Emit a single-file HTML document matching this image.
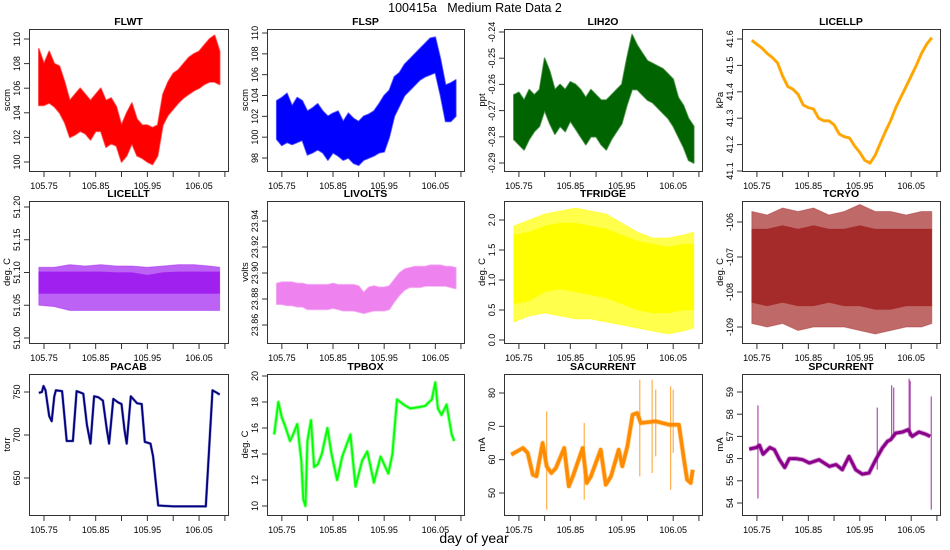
<!DOCTYPE html>
<html><head><meta charset="utf-8"><style>
body{margin:0;background:#fff;}
svg{display:block;font-family:"Liberation Sans",sans-serif;}
</style></head><body>
<svg id="chart" width="950" height="550" viewBox="0 0 950 550" xmlns="http://www.w3.org/2000/svg">
<text x="475" y="12" text-anchor="middle" font-size="12.5" style="white-space:pre" xml:space="preserve">100415a   Medium Rate Data 2</text>
<text x="474" y="543" text-anchor="middle" font-size="14">day of year</text>
</svg>
<script>
// ---------- data ----------
const T36=[105.74,105.75,105.76,105.77,105.78,105.79,105.80,105.81,105.82,105.83,105.84,105.85,105.86,105.87,105.88,105.89,105.90,105.91,105.92,105.93,105.94,105.95,105.96,105.97,105.98,105.99,106.00,106.01,106.02,106.03,106.04,106.05,106.06,106.07,106.08,106.09];
const T13=[105.74,105.77,105.80,105.83,105.86,105.89,105.92,105.95,105.98,106.01,106.04,106.07,106.09];
const xTicks=[105.75,105.80,105.85,105.90,105.95,106.00,106.05,106.10];
const xTickLabels=["105.75","","105.85","","105.95","","106.05",""];

const flwtLo=[104.6,104.6,104.8,104.5,104,103.2,102,102.2,102.5,102.3,101.8,102.5,102.5,101.2,101.5,101.3,100,100.5,101.5,100.5,100.3,100,99.8,100.5,103,103.8,104.3,104.8,105.2,105.5,105.8,106,106.3,106.5,106.5,106.3];
const flwtHi=[109.2,108,109,108,107.8,106.5,105,105.5,106,105.5,105,105.5,106,105,105.2,104.5,103,104,104.8,103.5,103,103,102.8,103,105.5,106.5,107.2,107.5,108,108.5,108.8,109,109.5,110,110.3,109];
const flspLo=[99.8,99.2,99.5,99.3,99.5,99.7,98.3,98.5,98.8,98.5,97.8,98.5,98.2,97.8,98,97.5,97.3,97.8,98,98.2,98.5,98.6,100,102,103,104,104.5,105,105.5,105.8,106,106.2,104,101.5,101.5,102];
const flspHi=[103.5,103.8,104.2,103,103.8,103.5,102.5,102.8,103.2,102.5,102,102.3,102.5,101.5,102.3,101.8,101.5,102,102.2,102.5,103.2,104,104.5,105.8,106.2,107,107.5,108,108.5,109,109.5,109.6,107.5,105,105.2,105.5];
const lih2oLo=[-0.281,-0.283,-0.285,-0.281,-0.278,-0.276,-0.27,-0.275,-0.279,-0.276,-0.278,-0.274,-0.277,-0.28,-0.283,-0.28,-0.28,-0.283,-0.285,-0.281,-0.278,-0.275,-0.268,-0.262,-0.262,-0.264,-0.266,-0.267,-0.269,-0.271,-0.273,-0.276,-0.28,-0.284,-0.289,-0.29];
const lih2oHi=[-0.264,-0.263,-0.266,-0.262,-0.264,-0.262,-0.25,-0.255,-0.262,-0.26,-0.262,-0.259,-0.26,-0.262,-0.265,-0.262,-0.264,-0.266,-0.266,-0.264,-0.262,-0.26,-0.25,-0.241,-0.245,-0.248,-0.251,-0.252,-0.253,-0.254,-0.256,-0.258,-0.265,-0.268,-0.273,-0.276];
const licellpVals=[41.595,41.58,41.565,41.545,41.53,41.51,41.46,41.42,41.41,41.39,41.35,41.34,41.335,41.30,41.29,41.29,41.275,41.24,41.23,41.225,41.195,41.17,41.14,41.13,41.16,41.205,41.25,41.29,41.34,41.38,41.42,41.46,41.50,41.545,41.58,41.605];

const licelltLo=[51.05,51.048,51.042,51.042,51.042,51.042,51.042,51.042,51.042,51.042,51.042,51.042,51.042];
const licelltHi=[51.108,51.108,51.112,51.11,51.112,51.11,51.11,51.108,51.11,51.112,51.112,51.11,51.108];
const licelltCoreLo=[51.068,51.068,51.068,51.068,51.068,51.068,51.068,51.068,51.068,51.068,51.068,51.068,51.068];
const licelltCoreHi=[51.101,51.101,51.101,51.101,51.101,51.1,51.1,51.096,51.1,51.101,51.101,51.101,51.101];
const livoltsLo=[23.876,23.876,23.875,23.875,23.874,23.874,23.872,23.872,23.872,23.872,23.872,23.873,23.872,23.871,23.871,23.871,23.87,23.869,23.87,23.871,23.871,23.871,23.872,23.878,23.883,23.887,23.889,23.889,23.889,23.89,23.89,23.89,23.89,23.89,23.889,23.888];
const livoltsHi=[23.892,23.893,23.893,23.893,23.892,23.892,23.891,23.891,23.891,23.891,23.891,23.892,23.891,23.891,23.891,23.891,23.89,23.885,23.889,23.89,23.889,23.889,23.89,23.895,23.9,23.903,23.904,23.905,23.905,23.905,23.906,23.906,23.906,23.905,23.905,23.904];
const tfridgeLo=[0.3,0.4,0.45,0.4,0.35,0.35,0.3,0.25,0.2,0.15,0.1,0.15,0.2];
const tfridgeHi=[1.9,2.0,2.1,2.15,2.2,2.15,2.1,1.95,1.8,1.7,1.7,1.75,1.8];
const tfridgeCoreLo=[0.6,0.65,0.8,0.85,0.8,0.75,0.7,0.6,0.5,0.45,0.45,0.5,0.5];
const tfridgeCoreHi=[1.75,1.8,1.9,1.95,1.95,1.9,1.85,1.75,1.65,1.6,1.55,1.6,1.6];
const tcryoLo=[-108.9,-109,-108.9,-109.1,-109,-109,-109,-109.1,-109.2,-109.1,-109,-109,-108.9];
const tcryoHi=[-105.7,-105.8,-105.6,-105.7,-105.6,-105.8,-105.7,-105.5,-105.7,-105.7,-105.8,-105.7,-105.7];
const tcryoCoreLo=[-108.3,-108.4,-108.3,-108.4,-108.4,-108.3,-108.4,-108.4,-108.5,-108.5,-108.4,-108.4,-108.4];
const tcryoCoreHi=[-106.2,-106.2,-106.1,-106.2,-106.1,-106.2,-106.2,-106.1,-106.2,-106.2,-106.2,-106.2,-106.2];

const pacabT=[105.740,105.746,105.749,105.753,105.760,105.765,105.770,105.773,105.785,105.794,105.806,105.813,105.826,105.833,105.840,105.847,105.855,105.864,105.872,105.876,105.884,105.893,105.900,105.906,105.910,105.918,105.930,105.939,105.945,105.956,105.961,105.971,106.000,106.030,106.063,106.076,106.085,106.090];
const pacabVals=[749,750,757,752,722,716,745,752,751,693,693,751,748,712,690,745,744,740,705,690,742,738,736,705,690,745,737,736,692,690,675,618,617,617,617,752,749,747];
const tpboxT=[105.735,105.743,105.750,105.756,105.766,105.772,105.780,105.788,105.792,105.796,105.800,105.807,105.813,105.820,105.828,105.839,105.847,105.858,105.868,105.884,105.894,105.907,105.917,105.930,105.943,105.958,105.966,105.975,105.988,106.001,106.017,106.030,106.043,106.050,106.055,106.062,106.072,106.082,106.087];
const tpboxVals=[15.5,18,16.8,16.2,15,15.5,16.3,13.5,10.5,10,15,16.6,13,13.2,14,16,14,12,13.8,15.5,11.5,13.5,14.2,11.8,13.8,12.5,14,18.2,17.8,17.5,17.6,17.7,18.2,19.5,17.5,17,17.8,15.5,15];
const saT=[105.735,105.758,105.767,105.777,105.784,105.796,105.804,105.813,105.822,105.838,105.847,105.855,105.874,105.882,105.890,105.909,105.919,105.929,105.944,105.951,105.961,105.971,105.980,105.987,106.016,106.042,106.061,106.071,106.077,106.084,106.088];
const saVals=[61.5,63.5,62,55.5,55,65,58,56,57.5,63.5,52,55,63.5,53,55,63,52.5,55,63,58,64,73.5,74,71,71.5,70.5,70.5,60,54,53,57];
const saSpikeT=[105.804,105.877,105.985,106.009,106.016,106.045,106.050];
const saSpikeLo=[45,48,55,56,61,51,62];
const saSpikeHi=[74.5,71,84,84,81,82,81];
const spT=[105.735,105.749,105.755,105.762,105.775,105.784,105.794,105.804,105.813,105.826,105.839,105.852,105.871,105.891,105.904,105.916,105.929,105.942,105.955,105.968,105.981,105.994,106.004,106.010,106.020,106.033,106.044,106.052,106.065,106.078,106.087];
const spVals=[56.43,56.5,56.6,56.2,56.5,56.4,55.95,55.6,56,56,55.95,55.8,55.95,55.65,55.73,55.5,56.1,55.5,55.3,55.35,55.95,56.48,56.78,56.85,57.15,57.2,57.3,57,57.2,57.1,57];
const spSpikeT=[105.752,105.984,106.012,106.016,106.046,106.048,106.089];
const spSpikeLo=[54.2,55.5,57,57,57,57,53.7];
const spSpikeHi=[58.4,58.3,59.3,59.2,59.6,59.5,58.8];

// ---------- layout ----------
const svg=document.getElementById('chart');
const NS='http://www.w3.org/2000/svg';
const colL=[29,267,504,742], colW=[199,197,198,198];
const rowT=[29,201,374], rowB=[171,343,515];
const X0=105.721, X1=106.106;
function mk(tag,attrs,parent){const e=document.createElementNS(NS,tag);for(const k in attrs)e.setAttribute(k,attrs[k]);(parent||svg).appendChild(e);return e;}

const panels=[
 {name:'FLWT',ylab:'sccm',col:0,row:0,ticks:[100,102,104,106,108,110],fmt:0,a:[110,39],b:[100,162],color:'#ff0000',type:'band',t:T36,lo:flwtLo,hi:flwtHi},
 {name:'FLSP',ylab:'sccm',col:1,row:0,ticks:[98,100,102,104,106,108,110],fmt:0,a:[110,33],b:[98,158],color:'#0000ff',type:'band',t:T36,lo:flspLo,hi:flspHi},
 {name:'LIH2O',ylab:'ppt',col:2,row:0,ticks:[-0.29,-0.28,-0.27,-0.26,-0.25,-0.24],fmt:2,a:[-0.24,32],b:[-0.29,163],color:'#006400',type:'band',t:T36,lo:lih2oLo,hi:lih2oHi},
 {name:'LICELLP',ylab:'kPa',col:3,row:0,ticks:[41.1,41.2,41.3,41.4,41.5,41.6],fmt:1,a:[41.6,39],b:[41.1,171],color:'#ffa500',type:'line',t:T36,v:licellpVals,w:2.6,h:0.8},
 {name:'LICELLT',ylab:'deg. C',col:0,row:1,ticks:[51.00,51.05,51.10,51.15,51.20],fmt:2,a:[51.2,207],b:[51.0,338],color:'#a020f0',type:'band2',t:T13,lo:licelltLo,hi:licelltHi,clo:licelltCoreLo,chi:licelltCoreHi},
 {name:'LIVOLTS',ylab:'volts',col:1,row:1,ticks:[23.86,23.88,23.90,23.92,23.94],fmt:2,a:[23.94,221],b:[23.86,325],color:'#ee82ee',type:'band',t:T36,lo:livoltsLo,hi:livoltsHi},
 {name:'TFRIDGE',ylab:'deg. C',col:2,row:1,ticks:[0,0.5,1,1.5,2],fmt:1,a:[2,220],b:[0,340],color:'#ffff00',type:'band2',t:T13,lo:tfridgeLo,hi:tfridgeHi,clo:tfridgeCoreLo,chi:tfridgeCoreHi},
 {name:'TCRYO',ylab:'deg. C',col:3,row:1,ticks:[-109,-108,-107,-106],fmt:0,a:[-106,222],b:[-109,327],color:'#a52a2a',type:'band2',t:T13,lo:tcryoLo,hi:tcryoHi,clo:tcryoCoreLo,chi:tcryoCoreHi},
 {name:'PACAB',ylab:'torr',col:0,row:2,ticks:[650,700,750],fmt:0,a:[750,392],b:[650,478],color:'#000080',type:'line',t:pacabT,v:pacabVals,w:1.8,h:1},
 {name:'TPBOX',ylab:'deg. C',col:1,row:2,ticks:[10,12,14,16,18,20],fmt:0,a:[20,376],b:[10,506],color:'#00ff00',type:'line',t:tpboxT,v:tpboxVals,w:1.8,h:1.8},
 {name:'SACURRENT',ylab:'mA',col:2,row:2,ticks:[50,60,70,80],fmt:0,a:[80,393],b:[50,493],color:'#ff8c00',type:'line',t:saT,v:saVals,w:3.5,h:1.5,st:saSpikeT,slo:saSpikeLo,shi:saSpikeHi},
 {name:'SPCURRENT',ylab:'mA',col:3,row:2,ticks:[54,55,56,57,58,59],fmt:0,a:[59,392],b:[54,503],color:'#8b008b',type:'line',t:spT,v:spVals,w:3,h:1.8,st:spSpikeT,slo:spSpikeLo,shi:spSpikeHi}
];

panels.forEach(p=>{
  const L=colL[p.col],W=colW[p.col],Tp=rowT[p.row],B=rowB[p.row];
  const slug=p.name.toLowerCase();
  const xs=t=>L+(t-X0)/(X1-X0)*W;
  const ys=v=>p.a[1]+(v-p.a[0])*(p.b[1]-p.a[1])/(p.b[0]-p.a[0]);
  const g=mk('g',{});
  
  
  const clipId='clip-'+slug;
  const cp=mk('clipPath',{id:clipId},g);
  mk('rect',{x:L,y:Tp,width:W,height:B-Tp},cp);
  const sg=mk('g',{'clip-path':'url(#'+clipId+')'},g);
  
  
  if(p.type==='band'||p.type==='band2'){
    const band=(lo,hi,op,sw)=>{
      let pts=p.t.map((t,i)=>xs(t).toFixed(1)+','+ys(hi[i]).toFixed(1));
      for(let i=p.t.length-1;i>=0;i--)pts.push(xs(p.t[i]).toFixed(1)+','+ys(lo[i]).toFixed(1));
      const pg=mk('polygon',{points:pts.join(' '),fill:p.color,'fill-opacity':op,stroke:p.color,'stroke-opacity':op*0.6,'stroke-width':sw,'stroke-linejoin':'round'},sg);
      
      
    };
    if(p.type==='band2'){band(p.lo,p.hi,0.7,1);band(p.clo,p.chi,1,0.5);}
    else band(p.lo,p.hi,1,1.6);
  } else {
    const pts=p.t.map((t,i)=>xs(t).toFixed(1)+','+ys(p.v[i]).toFixed(1)).join(' ');
    const halo=mk('polyline',{points:pts,fill:'none',stroke:p.color,'stroke-opacity':0.4,'stroke-width':p.w+p.h,'stroke-linejoin':'round'},sg);
    
    
    const ln=mk('polyline',{points:pts,fill:'none',stroke:p.color,'stroke-width':p.w,'stroke-linejoin':'round'},sg);
    
    
    if(p.st){p.st.forEach((t,i)=>{
      const s=mk('line',{x1:xs(t),x2:xs(t),y1:ys(p.slo[i]),y2:ys(p.shi[i]),stroke:p.color,'stroke-opacity':0.7,'stroke-width':1.2},sg);
      
      
    });}
  }
  const box=mk('rect',{x:L+0.5,y:Tp+0.5,width:W,height:B-Tp,fill:'none',stroke:'#333','stroke-width':1},g);
  
  
  const ttl=mk('text',{x:L+W/2,y:Tp-4,'text-anchor':'middle','font-size':10.5,'font-weight':'bold'},g);
  ttl.textContent=p.name;
  
  
  xTicks.forEach((t,i)=>{
    const x=xs(t);
    const tk=mk('line',{x1:x,x2:x,y1:B+1,y2:B+6,stroke:'#333'},g);
    
    
    if(xTickLabels[i]){
      const lb=mk('text',{x:x,y:B+18,'text-anchor':'middle','font-size':9},g);
      lb.textContent=xTickLabels[i];
      
      
    }
  });
  p.ticks.forEach(v=>{
    const y=ys(v);
    const tk=mk('line',{x1:L-5,x2:L,y1:y,y2:y,stroke:'#333'},g);
    
    
    const lb=mk('text',{x:L-9,y:y,'text-anchor':'middle','font-size':9,transform:'rotate(-90 '+(L-9)+' '+y+')'},g);
    lb.textContent=v.toFixed(p.fmt);
    
    
  });
  const yl=mk('text',{x:L-19,y:(Tp+B)/2,'text-anchor':'middle','font-size':9.5,transform:'rotate(-90 '+(L-19)+' '+((Tp+B)/2)+')'},g);
  yl.textContent=p.ylab;
  
  
});
</script>
</body></html>
